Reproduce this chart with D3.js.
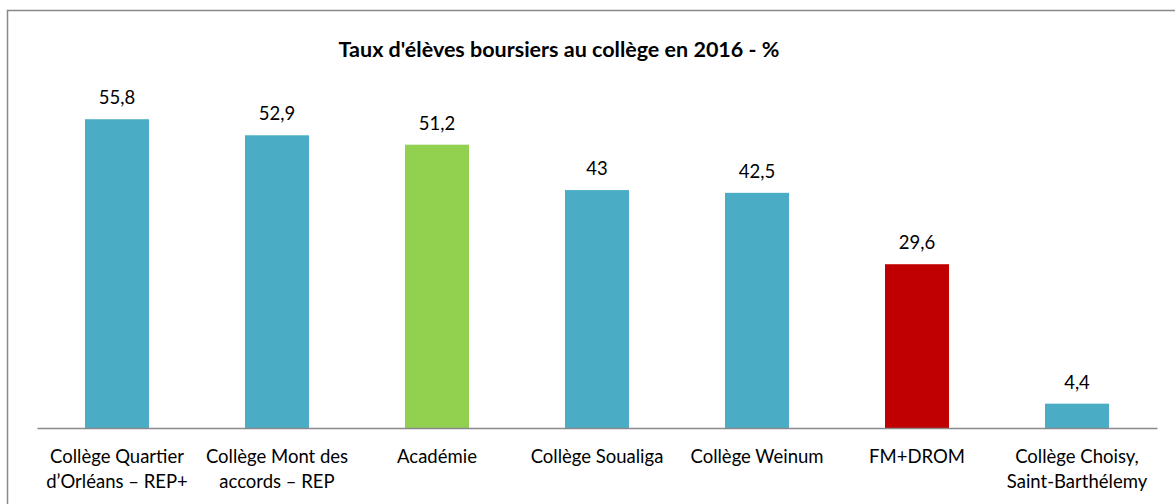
<!DOCTYPE html>
<html>
<head>
<meta charset="utf-8">
<script src="https://cdn.jsdelivr.net/npm/d3@7"></script>
<style>
  body { margin: 0; background: #fff; }
  svg { display: block; font-family: Lato, "Open Sans", sans-serif; }
</style>
</head>
<body>
<div id="viz"></div>
<script>
// Data
const categories = [
    "Collège Quartier|d’Orléans – REP+",
    "Collège Mont des|accords – REP",
    "Académie",
    "Collège Soualiga",
    "Collège Weinum",
    "FM+DROM",
    "Collège Choisy,|Saint-Barthélemy"
];
const values = [55.8, 52.9, 51.2, 43, 42.5, 29.6, 4.4];
const barColors = ["#4BACC6", "#4BACC6", "#92D050", "#4BACC6", "#4BACC6", "#C00000", "#4BACC6"];
const title = "Taux d'élèves boursiers au collège en 2016 - %";

const dims = {
    width: 1175,
    height: 504,
    margin: { top: 96, right: 18, bottom: 76, left: 37 }
};

const svg = d3.select("#viz")
    .append("svg")
    .attr("width", dims.width)
    .attr("height", dims.height);

// chart frame (runs off right/bottom edge like the screenshot)
svg.append("rect")
    .attr("x", 7.5)
    .attr("y", 10.5)
    .attr("width", dims.width + 20)
    .attr("height", dims.height + 20)
    .attr("fill", "#fff")
    .attr("stroke", "#898989")
    .attr("stroke-width", 1.5);

const x = d3.scaleBand()
    .domain(categories)
    .range([dims.margin.left, dims.width - dims.margin.right])
    .paddingInner(0.6)
    .paddingOuter(0.3);

const y = d3.scaleLinear()
    .domain([0, 60])
    .range([dims.height - dims.margin.bottom, dims.margin.top]);

const data = categories.map((c, i) => ({ cat: c, value: values[i], color: barColors[i] }));

// bars
svg.selectAll("rect.bar")
    .data(data)
    .enter()
    .append("rect")
    .attr("class", "bar")
    .attr("x", d => x(d.cat))
    .attr("y", d => y(d.value))
    .attr("width", x.bandwidth())
    .attr("height", d => y(0) - y(d.value))
    .attr("fill", d => d.color);

// value labels
svg.selectAll("text.value")
    .data(data)
    .enter()
    .append("text")
    .attr("class", "value")
    .attr("x", d => x(d.cat) + x.bandwidth() / 2)
    .attr("y", d => y(d.value) - 15)
    .attr("text-anchor", "middle")
    .attr("font-size", "18.5px")
    .attr("fill", "#000")
    .text(d => String(d.value).replace(".", ","));

// x axis (line only, no ticks)
const xAxis = svg.append("g")
    .attr("transform", `translate(0, ${y(0)})`)
    .call(d3.axisBottom(x).tickSize(0).tickFormat(""));
xAxis.select(".domain")
    .attr("stroke", "#898989")
    .attr("stroke-width", 1.5);

// category labels, two lines where needed
const catLabels = svg.selectAll("text.cat")
    .data(data)
    .enter()
    .append("text")
    .attr("class", "cat")
    .attr("text-anchor", "middle")
    .attr("font-size", "18.5px")
    .attr("fill", "#000");

catLabels.each(function (d) {
    const lines = d.cat.split("|");
    const cx = x(d.cat) + x.bandwidth() / 2;
    lines.forEach((line, i) => {
        d3.select(this).append("tspan")
            .attr("x", cx)
            .attr("y", y(0) + 35 + i * 25)
            .text(line);
    });
});

// title
svg.append("text")
    .attr("x", 559)
    .attr("y", 57)
    .attr("text-anchor", "middle")
    .attr("font-size", "21.5px")
    .attr("font-weight", "bold")
    .text(title);
</script>
</body>
</html>
